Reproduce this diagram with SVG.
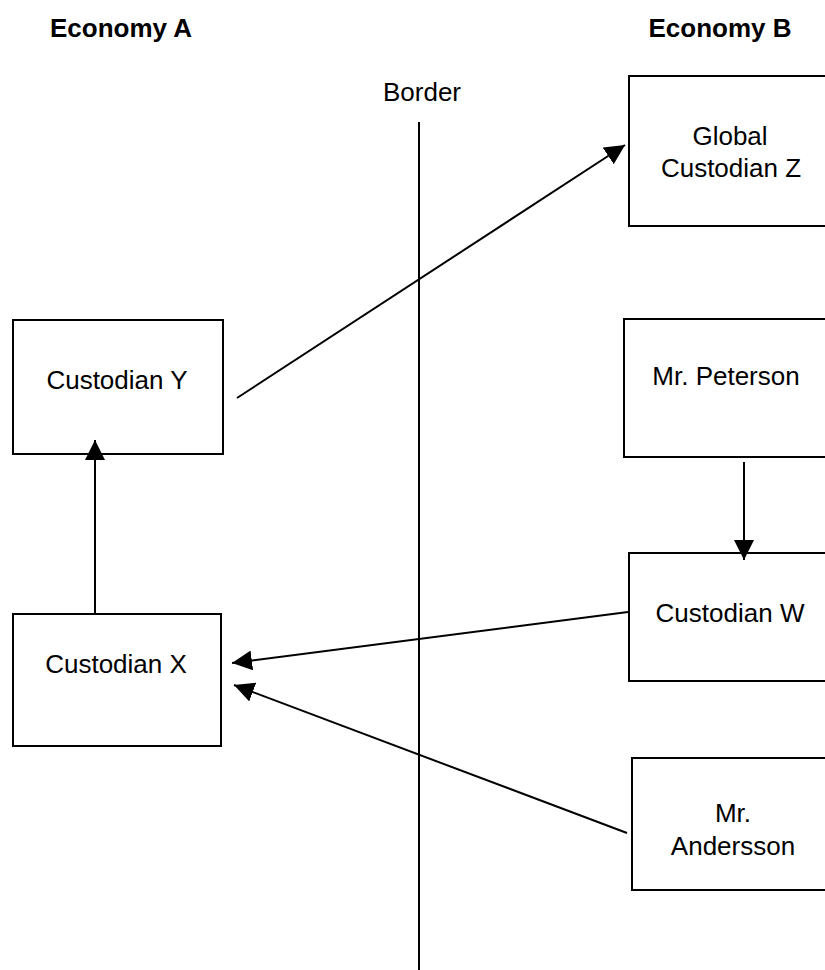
<svg xmlns="http://www.w3.org/2000/svg" width="825" height="970" viewBox="0 0 825 970">
<style>
.box{fill:#fff;stroke:#000;stroke-width:2}
.t{font-family:"Liberation Sans",Arial,sans-serif;font-size:26px;fill:#000;text-anchor:middle}
.h{font-weight:bold}
.c{stroke:#000;stroke-width:2;fill:none}
</style>
<defs>
<marker id="ah" markerWidth="20" markerHeight="20" refX="20" refY="10" orient="auto" markerUnits="userSpaceOnUse">
<path d="M0,0 L20,10 L0,20 Z" fill="#000"/>
</marker>
</defs>
<rect width="825" height="970" fill="#fff"/>
<text class="t h" x="121" y="37">Economy A</text>
<text class="t h" x="720" y="37">Economy B</text>
<text class="t" x="422" y="101">Border</text>
<line class="c" x1="419" y1="122" x2="419" y2="970"/>
<g id="global-custodian-z">
<rect class="box" x="629" y="76" width="210" height="150"/>
<text class="t" x="730" y="145">Global</text>
<text class="t" x="731" y="177">Custodian Z</text>
</g>
<g id="mr-peterson">
<rect class="box" x="624" y="319" width="215" height="138"/>
<text class="t" x="726" y="385">Mr. Peterson</text>
</g>
<g id="custodian-w">
<rect class="box" x="629" y="553" width="210" height="128"/>
<text class="t" x="730" y="622">Custodian W</text>
</g>
<g id="mr-andersson">
<rect class="box" x="632" y="758" width="210" height="132"/>
<text class="t" x="733" y="822">Mr.</text>
<text class="t" x="733" y="855">Andersson</text>
</g>
<g id="custodian-y">
<rect class="box" x="13" y="320" width="210" height="134"/>
<text class="t" x="117" y="389">Custodian Y</text>
</g>
<g id="custodian-x">
<rect class="box" x="13" y="614" width="208" height="132"/>
<text class="t" x="116" y="673">Custodian X</text>
</g>
<g id="connectors">
<line class="c" x1="95" y1="614" x2="95" y2="440" marker-end="url(#ah)"/>
<line class="c" x1="237" y1="398" x2="625" y2="145" marker-end="url(#ah)"/>
<line class="c" x1="744" y1="462" x2="744" y2="560" marker-end="url(#ah)"/>
<line class="c" x1="628" y1="612" x2="232" y2="663" marker-end="url(#ah)"/>
<line class="c" x1="627" y1="833" x2="234" y2="685" marker-end="url(#ah)"/>
</g>
</svg>
